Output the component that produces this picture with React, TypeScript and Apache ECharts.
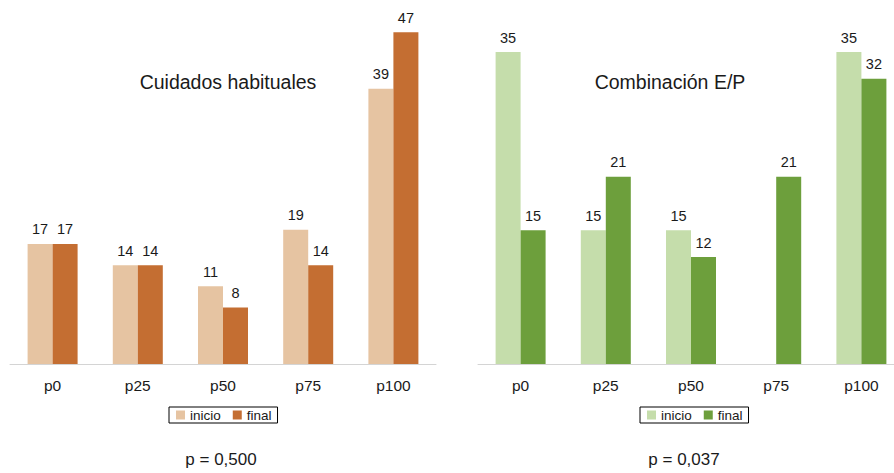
import React, { useEffect, useRef } from "react";
import * as echarts from "echarts";

const categories = ["p0", "p25", "p50", "p75", "p100"];
const leftInicio = [17, 14, 11, 19, 39];
const leftFinal = [17, 14, 8, 14, 47];
const rightInicio: (number | null)[] = [35, 15, 15, null, 35];
const rightFinal = [15, 21, 12, 21, 32];
const leftTitle = "Cuidados habituales";
const rightTitle = "Combinación E/P";
const leftP = "p = 0,500";
const rightP = "p = 0,037";

const FONT = "'Liberation Sans', Arial, Helvetica, sans-serif";

export default function App() {
  const ref = useRef<HTMLDivElement>(null);
  useEffect(() => {
    if (!ref.current) return;
    const chart = echarts.init(ref.current, undefined, { renderer: "svg" });
    const label = {
      show: true,
      position: "top" as const,
      distance: 7,
      color: "#1a1a1a",
      fontSize: 14.5,
      fontFamily: FONT,
    };
    const xAxisBase = {
      type: "category" as const,
      data: categories,
      axisLine: { show: true, lineStyle: { color: "#d4d4d4", width: 1 } },
      axisTick: { show: false },
      axisLabel: { color: "#1a1a1a", fontSize: 15.5, fontFamily: FONT, margin: 13 },
    };
    const yAxisBase = {
      type: "value" as const,
      min: 0,
      show: false,
      splitLine: { show: false },
    };
    const legendBase = {
      top: 407,
      orient: "horizontal" as const,
      borderColor: "#000",
      borderWidth: 1,
      padding: [1, 6, 1, 7],
      itemGap: 12,
      itemWidth: 9,
      itemHeight: 9,
      icon: "rect",
      textStyle: { color: "#1a1a1a", fontSize: 13.5, fontFamily: FONT, lineHeight: 14 },
      formatter: (name: string) => name.split("_")[0],
    };
    chart.setOption({
      animation: false,
      backgroundColor: "#ffffff",
      grid: [
        { left: 10, top: 11, width: 426, height: 353 },
        { left: 478, top: 12, width: 426, height: 352 },
      ],
      xAxis: [
        { ...xAxisBase, gridIndex: 0 },
        { ...xAxisBase, gridIndex: 1 },
      ],
      yAxis: [
        { ...yAxisBase, gridIndex: 0, max: 50 },
        { ...yAxisBase, gridIndex: 1, max: 39.5 },
      ],
      legend: [
        { ...legendBase, left: 169, data: ["inicio_L", "final_L"] },
        { ...legendBase, left: 640, data: ["inicio_R", "final_R"] },
      ],
      series: [
        {
          name: "inicio_L", type: "bar", xAxisIndex: 0, yAxisIndex: 0,
          data: leftInicio, barWidth: 25, barGap: "0%",
          itemStyle: { color: "#e6c4a2" }, label,
        },
        {
          name: "final_L", type: "bar", xAxisIndex: 0, yAxisIndex: 0,
          data: leftFinal, barWidth: 25, barGap: "0%",
          itemStyle: { color: "#c46e32" }, label,
        },
        {
          name: "inicio_R", type: "bar", xAxisIndex: 1, yAxisIndex: 1,
          data: rightInicio, barWidth: 25, barGap: "0%",
          itemStyle: { color: "#c5ddab" }, label,
        },
        {
          name: "final_R", type: "bar", xAxisIndex: 1, yAxisIndex: 1,
          data: rightFinal, barWidth: 25, barGap: "0%",
          itemStyle: { color: "#6d9f3c" }, label,
        },
      ],
      graphic: [
        {
          type: "text",
          style: { text: leftTitle, x: 228, y: 82, textAlign: "center", textVerticalAlign: "middle", fill: "#1a1a1a", fontSize: 19.5, fontFamily: FONT },
        },
        {
          type: "text",
          style: { text: rightTitle, x: 670, y: 82, textAlign: "center", textVerticalAlign: "middle", fill: "#1a1a1a", fontSize: 19.5, fontFamily: FONT },
        },
        {
          type: "text",
          style: { text: leftP, x: 221, y: 459, textAlign: "center", textVerticalAlign: "middle", fill: "#1a1a1a", fontSize: 17, fontFamily: FONT },
        },
        {
          type: "text",
          style: { text: rightP, x: 684, y: 459, textAlign: "center", textVerticalAlign: "middle", fill: "#1a1a1a", fontSize: 17, fontFamily: FONT },
        },
      ],
    });
    return () => chart.dispose();
  }, []);
  return (
    <div style={{ position: "fixed", left: 0, top: 0, width: 894, height: 473, overflow: "hidden" }}>
      <div ref={ref} style={{ position: "absolute", left: 0, top: 0, width: 910, height: 473 }} />
    </div>
  );
}
